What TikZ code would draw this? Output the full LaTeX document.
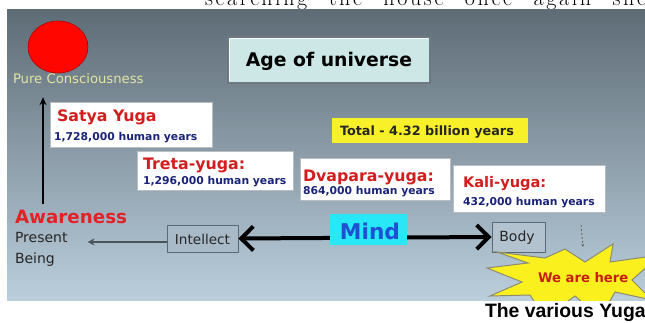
\documentclass[tikz,border=0pt]{standalone}
\usepackage{fontspec}
\newfontfamily\dv{DejaVu Sans}
\newfontfamily\lib{Liberation Sans}
\newfontfamily\topserif{Latin Modern Roman}[LetterSpace=12]
\usetikzlibrary{arrows.meta}
\newcommand\myfs[1]{\fontsize{#1}{#1}\selectfont}
\definecolor{slidetop}{RGB}{94,108,118}
\definecolor{slidemid}{RGB}{134,152,164}
\definecolor{slidebot}{RGB}{186,206,220}
\definecolor{agefill}{RGB}{205,230,230}
\definecolor{ageedge}{RGB}{110,122,128}
\definecolor{mindfill}{RGB}{40,232,248}
\definecolor{mindtext}{RGB}{30,80,210}
\definecolor{yugared}{RGB}{210,30,30}
\definecolor{yearblue}{RGB}{25,35,120}
\definecolor{totalyellow}{RGB}{248,240,40}
\definecolor{intelfill}{RGB}{168,186,200}
\definecolor{greyedge}{RGB}{90,105,118}
\definecolor{bodyfill}{RGB}{178,194,207}
\definecolor{awarered}{RGB}{225,35,40}
\definecolor{puretext}{RGB}{228,228,165}
\definecolor{staryellow}{RGB}{250,240,30}
\definecolor{staredge}{RGB}{140,140,110}
\definecolor{herered}{RGB}{200,30,20}
\definecolor{boxedge}{RGB}{185,190,195}
\begin{document}
\begin{tikzpicture}[x=1pt,y=-1pt,
  txt/.style={anchor=base west, inner sep=0pt, outer sep=0pt},
  whitebox/.style={draw=boxedge, fill=white, line width=0.8pt, inner sep=0pt},
  heading/.style={txt, text=yugared, font=\dv\bfseries\myfs{15.8}},
  years/.style={txt, text=yearblue, font=\dv\bfseries\myfs{10.8}},
  greybox/.style={draw=greyedge, line width=0.9pt, inner sep=0pt},
  thinarrow/.style={draw=greyedge!80!black, line width=2pt, -{Stealth[length=7pt,width=7pt]}},
  uparrow/.style={draw=black, line width=1.8pt, -{Stealth[length=8pt,width=7pt]}},
  bigarrow/.style={draw=black, line width=4pt, {Straight Barb[length=12pt,width=24pt]}-{Straight Barb[length=12pt,width=24pt]}}
]
\clip (0,0) rectangle (645,323);
\fill[white] (0,0) rectangle (645,323);
% top cut-off text line
\node[txt] (toptext) at (205,6) {\topserif\myfs{22}\makebox[441pt][s]{searching the house once again she}};
% slide background
\shade[top color=slidetop, middle color=slidemid, bottom color=slidebot] (7,10) rectangle (645,300);

% red circle and label
\fill[red!95!orange, draw=red!70!black, line width=0.6pt] (58,47) ellipse [x radius=30, y radius=26];
\node[txt, text=puretext, font=\dv\myfs{13.2}] (pure) at (13,84) {Pure Consciousness};

% title
\node[draw=ageedge, fill=agefill, line width=1.6pt, minimum width=202pt, minimum height=46pt, inner sep=0pt] (age) at (329,60) {};
\draw[white!85!agefill, line width=1.2pt] ([shift={(2.5pt,-2.5pt)}]age.north west) -- ([shift={(-2.5pt,-2.5pt)}]age.north east);
\draw[white!85!agefill, line width=1.2pt] ([shift={(2.5pt,-2.5pt)}]age.north west) -- ([shift={(2.5pt,2.5pt)}]age.south west);
\node[inner sep=0pt, font=\dv\bfseries\myfs{18.8}] (agetext) at (329,61) {Age of universe};

% total
\node[fill=totalyellow, minimum width=196pt, minimum height=25pt, inner sep=0pt] (total) at (430,130.5) {};
\node[txt, font=\dv\bfseries\myfs{12.8}, text=black!85] (totaltext) at (340,136) {Total - 4.32 billion years};

% yuga boxes
\node[whitebox, minimum width=162pt, minimum height=45pt] (satya) at (131,124.5) {};
\node[heading] (satyah) at (57,122) {Satya Yuga};
\node[years] (satyay) at (54,141) {1,728,000 human years};

\node[whitebox, minimum width=156pt, minimum height=39pt] (treta) at (215,170.5) {};
\node[heading] (tretah) at (143,170) {Treta-yuga:};
\node[years] (tretay) at (143,185) {1,296,000 human years};

\node[whitebox, minimum width=150pt, minimum height=42pt] (dvapara) at (375,179) {};
\node[heading] (dvaparah) at (303,182) {Dvapara-yuga:};
\node[years] (dvaparay) at (303,195) {864,000 human years};

\node[whitebox, minimum width=152pt, minimum height=47pt] (kali) at (529,188.5) {};
\node[heading, font=\dv\bfseries\myfs{14.6}] (kalih) at (463,188) {Kali-yuga:};
\node[years] (kaliy) at (463,206) {432,000 human years};

% left texts
\node[txt, text=awarered, font=\dv\bfseries\myfs{18.3}] (aware) at (15,223) {Awareness};
\node[txt, font=\dv\myfs{14}, text=black!85] (present) at (15,243) {Present};
\node[txt, font=\dv\myfs{14}, text=black!85] (being) at (15,263) {Being};

% intellect, body, mind
\node[greybox, fill=intelfill, minimum width=71pt, minimum height=27pt] (intel) at (202.5,238.5) {};
\node[inner sep=0pt, font=\dv\myfs{13.6}, text=black!85] (inteltext) at (202.5,239) {Intellect};
\node[greybox, fill=bodyfill, minimum width=53pt, minimum height=30pt] (body) at (518.5,237) {};
\node[inner sep=0pt, font=\dv\myfs{14}, text=black!85] (bodytext) at (517,238) {Body};

\draw[bigarrow] (intel.east) -- (body.west);
\node[fill=mindfill, minimum width=77pt, minimum height=31pt, inner sep=0pt] (mind) at (368.5,229.5) {};
\node[inner sep=0pt, font=\dv\bfseries\myfs{21.7}, text=mindtext] (mindtext) at (370,231) {Mind};

% arrows
\draw[uparrow] ([xshift=28pt,yshift=6pt]aware.north west) -- ([xshift=30pt,yshift=-13pt]pure.south west);
\draw[thinarrow, shorten >=20pt] ([yshift=-3.5pt]intel.west) -- ([yshift=-3.5pt]intel.west -| present.east);

% small dashed arrow
\coordinate (da) at (581,225);
\coordinate (db) at (583,247);
\draw[dashed, dash pattern=on 2pt off 2pt, draw=black!60, line width=0.8pt, -{Stealth[length=3pt,width=3pt]}] (da) -- (db);

% star burst
\begin{scope}
\clip (7,10) rectangle (645,300);
\draw[fill=staryellow, draw=staredge, line width=1pt]
  (487,268) -- (528,263) -- (497,252) -- (545,258) -- (565,249) -- (585,262) -- (613,244) -- (610,262)
  -- (660,255) -- (632,280) -- (652,300) -- (615,292) -- (600,318) -- (575,296) -- (545,318)
  -- (530,295) -- (490,296) -- (522,282) -- cycle;
\end{scope}
\node[txt, text=herered, font=\dv\bfseries\myfs{13.2}] (here) at (538,282) {We are here};

% caption
\node[txt, font=\lib\bfseries\myfs{19.4}] (caption) at (485,317) {The various Yugas};
\end{tikzpicture}
\end{document}
